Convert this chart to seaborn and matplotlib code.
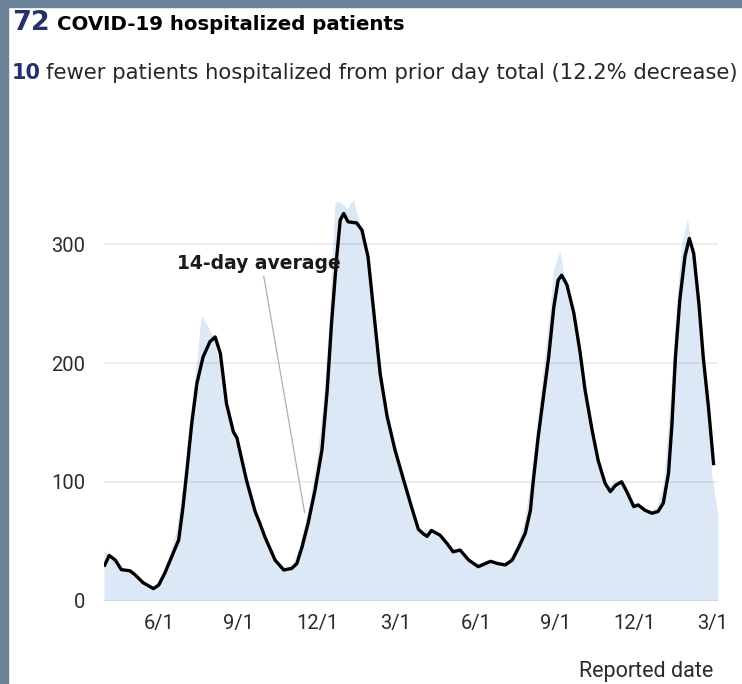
import matplotlib
matplotlib.use("Agg")
import matplotlib.pyplot as plt
from matplotlib.patches import Rectangle
import seaborn as sns
import pandas as pd

# ---------------- data ----------------
start_date = "2020-03-30"
# 14-day average: days since start_date and value
avg_days = [0, 6, 13, 20, 30, 36, 45, 57, 63, 70, 78, 86, 91, 96, 101, 107,
            114, 122, 128, 134, 141, 149, 153, 164, 174, 180, 185, 197, 207,
            216, 222, 228, 235, 243, 251, 257, 262, 268, 272, 276, 281, 291,
            297, 304, 310, 318, 326, 335, 345, 354, 362, 368, 372, 377, 387,
            395, 402, 410, 420, 431, 445, 454, 462, 470, 477, 485, 491, 494,
            500, 506, 512, 518, 523, 527, 533, 541, 548, 554, 562, 569, 577,
            583, 589, 596, 602, 610, 615, 623, 631, 638, 644, 650, 654, 658,
            663, 669, 674, 679, 685, 690, 696, 702]
avg_values = [28.5, 38, 34, 26, 25, 21.5, 15, 10, 13, 23, 37, 51, 79, 113,
              149, 183, 205, 218, 222, 208, 166, 142, 137, 101.5, 75, 64, 54,
              34, 25.7, 27, 31, 45, 65, 93, 127, 177, 233.5, 289.6, 320.5,
              326, 319, 318, 312, 289.6, 247.5, 191, 155, 127, 101.5, 79, 60,
              56, 54, 59, 55, 48, 41, 42.5, 34, 28.5, 33, 31, 30, 34, 44,
              56.6, 76, 98.7, 138, 171.7, 205, 247.5, 270, 274, 266, 242, 210,
              177, 143.6, 118, 98.7, 91.7, 97, 100, 91.7, 79, 80.5, 76, 73.5,
              75, 82, 107, 149, 205, 253, 290, 305, 292.5, 250, 205, 163, 114]
# daily reported patients, weekly readings
daily_reported = [42, 38, 30.5, 27, 24, 20.5, 16, 12.5, 11.2, 17,
                  28, 42, 62, 100, 150, 190, 240, 232, 222, 199,
                  165.5, 144, 127, 106, 86, 68, 55, 44, 33.5, 27.7,
                  28, 30, 44, 64, 88, 120, 165, 235, 336, 335,
                  330, 338, 318, 292, 248, 200, 164, 139, 119, 101,
                  84, 68, 58, 60, 60, 56, 48.5, 44, 43, 38,
                  33, 31, 32, 34, 32, 30.7, 32, 38, 48, 64,
                  95, 140, 185, 228, 280, 295, 261, 238.6, 208, 172,
                  142.5, 119.6, 103, 96, 102, 100, 90, 84, 80, 77,
                  76, 80, 98, 160, 240, 300, 322, 280, 225, 170,
                  105, 72]
tick_dates = ["2020-06-01", "2020-09-01", "2020-12-01", "2021-03-01",
              "2021-06-01", "2021-09-01", "2021-12-01", "2022-03-01"]
tick_labels = ["6/1", "9/1", "12/1", "3/1", "6/1", "9/1", "12/1", "3/1"]
y_ticks = [0, 100, 200, 300]

t0 = pd.Timestamp(start_date)
df_avg = pd.DataFrame({"date": t0 + pd.to_timedelta(avg_days, unit="D"),
                       "avg": avg_values})
df_daily = pd.DataFrame({"date": pd.date_range(start_date, periods=len(daily_reported), freq="7D"),
                         "daily": daily_reported})

# ---------------- figure ----------------
sns.set_theme(style="white")
plt.rcParams["font.family"] = ["Roboto", "DejaVu Sans"]

W, H = 742, 684
fig = plt.figure(figsize=(W / 100, H / 100), dpi=100)
fig.patch.set_facecolor("white")

border = "#6b8399"
fig.patches.append(Rectangle((0, 0), 8 / W, 1, transform=fig.transFigure,
                             color=border, zorder=0))
fig.patches.append(Rectangle((0, 1 - 7 / H), 1, 7 / H, transform=fig.transFigure,
                             color=border, zorder=0))

ax = fig.add_axes([104 / W, (H - 600.5) / H, (718 - 104) / W, 415.5 / H])
ax.set_facecolor("none")

ax.fill_between(df_daily["date"], 0, df_daily["daily"], color="#dce8f5",
                linewidth=0, zorder=1)
sns.lineplot(data=df_avg, x="date", y="avg", ax=ax, color="black", lw=2.4,
             zorder=3, solid_joinstyle="round", solid_capstyle="butt")

ax.set_xlim(t0, t0 + pd.Timedelta(days=707))
ax.set_ylim(0, 350)

ax.set_yticks(y_ticks)
ax.set_yticklabels([str(v) for v in y_ticks])
ax.set_xticks(pd.to_datetime(tick_dates))
ax.set_xticklabels(tick_labels)

ax.grid(axis="y", color="black", alpha=0.08, lw=1.3, zorder=2)
ax.grid(axis="x", visible=False)
ax.set_axisbelow(False)
for s in ax.spines.values():
    s.set_visible(False)

ax.tick_params(axis="y", length=0, pad=13.5, labelsize=14.5, labelcolor="#2b2b2b")
ax.tick_params(axis="x", length=4.5, width=1, color="#9a9a9a", direction="out",
               pad=5, labelsize=14.5, labelcolor="#2b2b2b")
ax.set_xlabel("")
ax.set_ylabel("")

# annotation for the 14-day average
ax.annotate("14-day average",
            xy=(pd.Timestamp("2020-11-16"), 74),
            xytext=(pd.Timestamp("2020-09-24"), 284),
            ha="center", va="center", fontsize=13.5, fontweight="bold",
            family="DejaVu Sans", color="#1a1a1a",
            arrowprops=dict(arrowstyle="-", color="#b0b0b0", lw=0.9,
                            shrinkA=0, shrinkB=0, relpos=(0.53, -0.1)),
            zorder=4)

# x axis title
fig.text(713 / W, 1 - 672 / H, "Reported date", ha="right", va="center",
         fontsize=15.5, color="#2b2b2b")

# header
navy = "#27306e"
fig.text(12 / W, 1 - 30 / H, "72", ha="left", va="baseline", fontsize=19.5,
         fontweight="bold", color=navy, family="DejaVu Sans")
fig.text(57 / W, 1 - 30 / H, "COVID-19 hospitalized patients", ha="left",
         va="baseline", fontsize=14.2, fontweight="bold", color="black",
         family="DejaVu Sans")
fig.text(12 / W, 1 - 79 / H, "10", ha="left", va="baseline", fontsize=15,
         fontweight="bold", color=navy, family="DejaVu Sans")
fig.text(46 / W, 1 - 79 / H,
         "fewer patients hospitalized from prior day total (12.2% decrease)",
         ha="left", va="baseline", fontsize=15.2, color="#262626",
         family="DejaVu Sans")

fig.savefig("out.png", dpi=100, facecolor="white")
